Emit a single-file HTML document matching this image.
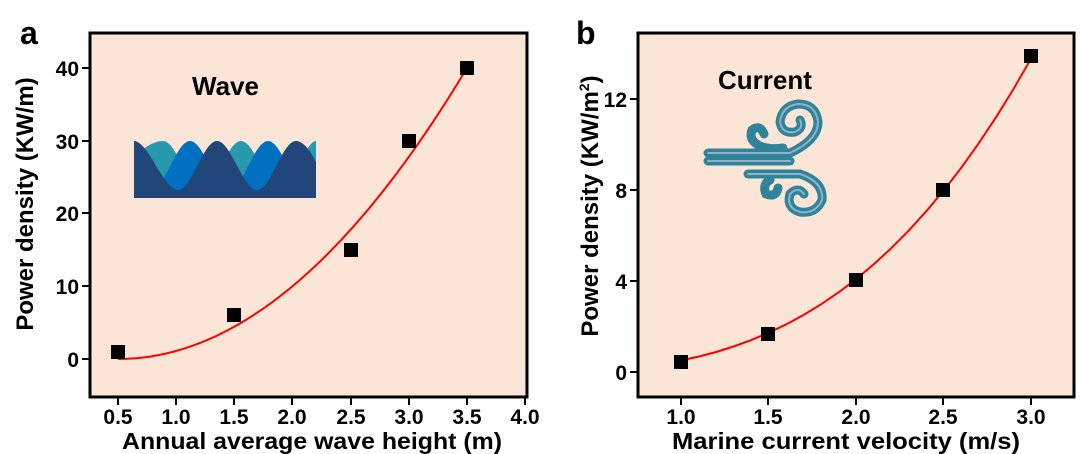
<!DOCTYPE html>
<html><head><meta charset="utf-8"><style>
html,body{margin:0;padding:0;background:#fff;}
svg{display:block;font-family:"Liberation Sans",sans-serif;font-weight:bold;}
</style></head><body>
<svg width="1080" height="454" viewBox="0 0 1080 454">
<defs>
<clipPath id="ca"><rect x="90" y="33" width="437" height="364"/></clipPath>
</defs>
<!-- Panel a -->
<text x="20" y="44" font-size="32">a</text>
<rect x="90" y="33" width="437" height="364" fill="#fae5d6" stroke="#000" stroke-width="3"/>
<g stroke="#000" stroke-width="2">
<line x1="82" y1="359" x2="90" y2="359"/><line x1="82" y1="286" x2="90" y2="286"/><line x1="82" y1="213" x2="90" y2="213"/><line x1="82" y1="141" x2="90" y2="141"/><line x1="82" y1="68" x2="90" y2="68"/>
<line x1="118" y1="397" x2="118" y2="405"/><line x1="176" y1="397" x2="176" y2="405"/><line x1="234" y1="397" x2="234" y2="405"/><line x1="292" y1="397" x2="292" y2="405"/><line x1="351" y1="397" x2="351" y2="405"/><line x1="409" y1="397" x2="409" y2="405"/><line x1="467" y1="397" x2="467" y2="405"/><line x1="525" y1="397" x2="525" y2="405"/>
</g>
<g font-size="21" text-anchor="end">
<text x="79" y="367">0</text><text x="79" y="294">10</text><text x="79" y="221">20</text><text x="79" y="149">30</text><text x="79" y="76">40</text>
</g>
<g font-size="21" text-anchor="middle">
<text x="118" y="424">0.5</text><text x="176" y="424">1.0</text><text x="234" y="424">1.5</text><text x="292" y="424">2.0</text><text x="351" y="424">2.5</text><text x="409" y="424">3.0</text><text x="467" y="424">3.5</text><text x="525" y="424">4.0</text>
</g>
<text x="312" y="449" font-size="23" text-anchor="middle" textLength="380" lengthAdjust="spacingAndGlyphs">Annual average wave height (m)</text>
<text transform="translate(33,204) rotate(-90)" font-size="24" text-anchor="middle">Power density (KW/m)</text>
<text x="192" y="95" font-size="26">Wave</text>
<!-- wave icon -->
<path d="M134,160 C140,150 152,141 163,141 C177,141 188,190 202,190 C216,190 227,141 241,141 C255,141 266,190 280,190 C294,190 305,141 316,141 L316,198 L134,198Z" fill="#2799ad"/>
<path d="M151,190 C165,190 176,141 190,141 C204,141 215,190 229,190 C243,190 254,141 268,141 C282,141 293,190 307,190 L307,198 L151,198Z" fill="#0070c0"/>
<path d="M134,141 C148,141 164,190 178,190 C192,190 203,141 217,141 C231,141 243,190 257,190 C271,190 282,141 296,141 C303,141 310,150 316,162 L316,198 L134,198Z" fill="#21477a"/>
<!-- curve a -->
<path d="M118,359 Q292.5,359 467,68" fill="none" stroke="#f00" stroke-width="2" clip-path="url(#ca)"/>
<g fill="#000">
<rect x="111" y="345" width="14" height="14"/><rect x="227" y="308" width="14" height="14"/><rect x="344" y="243" width="14" height="14"/><rect x="402" y="134" width="14" height="14"/><rect x="460" y="61" width="14" height="14"/>
</g>

<!-- Panel b -->
<text x="576" y="44" font-size="32">b</text>
<rect x="638" y="33" width="436" height="364" fill="#fae5d6" stroke="#000" stroke-width="3"/>
<g stroke="#000" stroke-width="2">
<line x1="630" y1="372" x2="638" y2="372"/><line x1="630" y1="281" x2="638" y2="281"/><line x1="630" y1="190" x2="638" y2="190"/><line x1="630" y1="99" x2="638" y2="99"/>
<line x1="681" y1="397" x2="681" y2="405"/><line x1="768" y1="397" x2="768" y2="405"/><line x1="856" y1="397" x2="856" y2="405"/><line x1="943" y1="397" x2="943" y2="405"/><line x1="1031" y1="397" x2="1031" y2="405"/>
</g>
<g font-size="21" text-anchor="end">
<text x="627" y="380">0</text><text x="627" y="289">4</text><text x="627" y="198">8</text><text x="627" y="107">12</text>
</g>
<g font-size="21" text-anchor="middle">
<text x="681" y="424">1.0</text><text x="768" y="424">1.5</text><text x="856" y="424">2.0</text><text x="943" y="424">2.5</text><text x="1031" y="424">3.0</text>
</g>
<text x="846" y="449" font-size="23" text-anchor="middle" textLength="348" lengthAdjust="spacingAndGlyphs">Marine current velocity (m/s)</text>
<text transform="translate(598,206) rotate(-90)" font-size="24" text-anchor="middle">Power density (KW/m<tspan font-size="14" dy="-9">2</tspan><tspan dy="9">)</tspan></text>
<text x="718" y="89" font-size="26">Current</text>
<!-- current icon -->
<g fill="none" stroke-linecap="round">
<g stroke="#2f8499" stroke-width="9">
<path d="M708,153 L790,153 Q818,140 818,122 Q816,104 798,104 Q782,106 780,122 Q782,134 795,132 Q804,128 800,120"/>
<path d="M708,161 L790,161"/>
<path d="M783,148 Q770,150 760,146 Q748,140 752,130 Q760,124 764,134"/>
<path d="M748,174 L800,174 Q824,182 822,200 Q816,214 800,212 Q786,208 790,194 Q798,186 804,194"/>
<path d="M770,180 Q762,184 766,194 Q776,198 778,188"/>
</g>
<g stroke="#8fb2c9" stroke-width="2">
<path d="M708,153 L790,153 Q818,140 818,122 Q816,104 798,104 Q782,106 780,122 Q782,134 795,132 Q804,128 800,120"/>
<path d="M708,161 L790,161"/>
<path d="M748,174 L800,174 Q824,182 822,200 Q816,214 800,212 Q786,208 790,194 Q798,186 804,194"/>
</g>
</g>
<!-- curve b -->
<polyline points="681,360.4 698.5,356.6 716,352 733.5,346.5 751,340.2 768.5,332.8 786,324.5 803.5,315 821,304.3 838.5,292.4 856,279.2 873.5,264.5 891,248.4 908.5,230.8 926,211.6 943.5,190.7 961,168.1 978.5,143.6 996,117.3 1013.5,89 1031,58.7" fill="none" stroke="#f00" stroke-width="2"/>
<g fill="#000">
<rect x="674" y="355" width="14" height="14"/><rect x="761" y="327" width="14" height="14"/><rect x="849" y="273" width="14" height="14"/><rect x="936" y="183" width="14" height="14"/><rect x="1024" y="49" width="14" height="14"/>
</g>
</svg>
</body></html>
